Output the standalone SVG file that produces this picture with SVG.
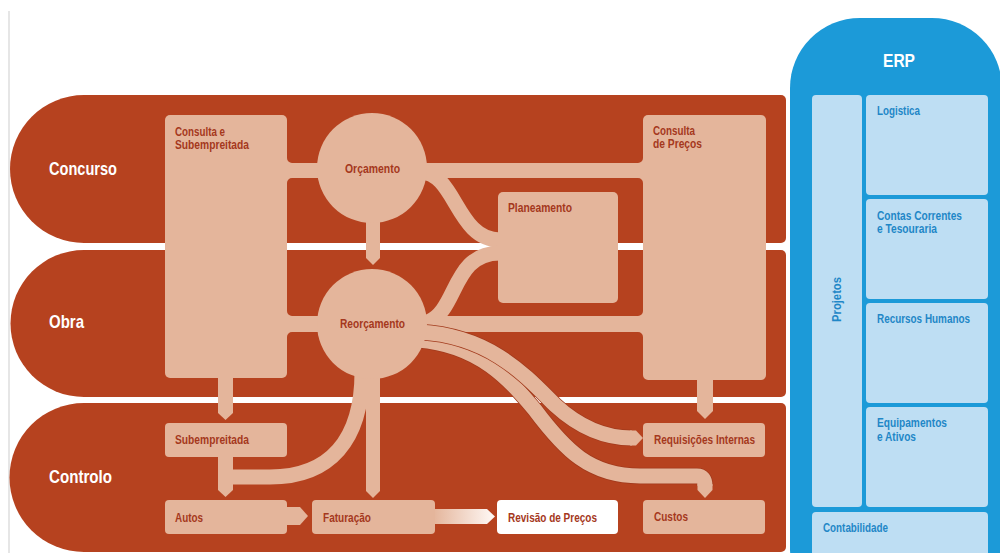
<svg xmlns="http://www.w3.org/2000/svg" width="1000" height="553" viewBox="0 0 1000 553">
  <defs>
    <style>
      .band{fill:#B6421F}
      .lt{fill:#E4B59B}
      .flow{fill:none;stroke:#E4B59B;stroke-width:15}
      .edge{fill:none;stroke:#A23A1C;stroke-width:16.5}
      .lane{font-family:"Liberation Sans",Arial,sans-serif;font-weight:bold;font-size:19px;fill:#FFFFFF}
      .lbl{font-family:"Liberation Sans",Arial,sans-serif;font-weight:bold;font-size:13.5px;fill:#A5381D}
      .erp{fill:#1C9AD8}
      .mod{fill:#BEDEF3}
      .mt{font-family:"Liberation Sans",Arial,sans-serif;font-weight:bold;font-size:13px;fill:#1F87C7}
    </style>
    <linearGradient id="fade" gradientUnits="userSpaceOnUse" x1="433" y1="0" x2="495" y2="0">
      <stop offset="0" stop-color="#E4B59B"/>
      <stop offset="1" stop-color="#FFF9F6"/>
    </linearGradient>
  </defs>

  <rect width="1000" height="553" fill="#FFFFFF"/>
  <line x1="9" y1="11" x2="9" y2="553" stroke="#DEDEDE" stroke-width="1.5"/>

  <!-- swimlanes -->
  <g id="lanes">
    <path class="band" d="M84 95 H781 A5 5 0 0 1 786 100 V238 A5 5 0 0 1 781 243 H84 A74 74 0 0 1 84 95 Z"/>
    <path class="band" d="M84 250 H781 A5 5 0 0 1 786 255 V392 A5 5 0 0 1 781 397 H84 A73.5 73.5 0 0 1 84 250 Z"/>
    <path class="band" d="M84 403 H781 A5 5 0 0 1 786 408 V547 A5 5 0 0 1 781 552 H84 A74.5 74.5 0 0 1 84 403 Z"/>
    <text class="lane" x="49" y="175" textLength="68" lengthAdjust="spacingAndGlyphs">Concurso</text>
    <text class="lane" x="49" y="328" textLength="35" lengthAdjust="spacingAndGlyphs">Obra</text>
    <text class="lane" x="49" y="483" textLength="63" lengthAdjust="spacingAndGlyphs">Controlo</text>
  </g>

  <!-- connectors -->
  <g id="connectors">
    <!-- horizontal links across Concurso and Obra -->
    <rect class="lt" x="285" y="163" width="360" height="15"/>
    <rect class="lt" x="285" y="316" width="360" height="16"/>
    <!-- rounded joints where the links meet the tall boxes -->
    <path class="lt" d="M287 158 A5 5 0 0 0 292 163 L287 163 Z"/>
    <path class="lt" d="M287 183 A5 5 0 0 1 292 178 L287 178 Z"/>
    <path class="lt" d="M643 158 A5 5 0 0 1 638 163 L643 163 Z"/>
    <path class="lt" d="M643 183 A5 5 0 0 0 638 178 L643 178 Z"/>
    <path class="lt" d="M287 311 A5 5 0 0 0 292 316 L287 316 Z"/>
    <path class="lt" d="M287 337 A5 5 0 0 1 292 332 L287 332 Z"/>
    <path class="lt" d="M643 311 A5 5 0 0 1 638 316 L643 316 Z"/>
    <path class="lt" d="M643 337 A5 5 0 0 0 638 332 L643 332 Z"/>
    <!-- Orçamento / Reorçamento to Planeamento -->
    <path class="flow" d="M420 172 C456 172 456 240 500 240"/>
    <path class="flow" d="M428 322 C458 310 452 253 500 253"/>
    <!-- Reorçamento to Custos and Requisições Internas -->
    <path class="edge" d="M418 340 C480 345 510 380 535 410 C565 450 590 476 640 476 L697 476 Q705 476 705 486"/>
    <path class="flow" d="M418 340 C480 345 510 380 535 410 C565 450 590 476 640 476 L697 476 Q705 476 705 486"/>
    <polygon class="lt" points="697.5,484 712.5,484 712.5,490 705,498 697.5,490"/>
    <path class="edge" d="M420 332 C490 336 525 375 555 405 C580 428 605 438 632 438"/>
    <path class="flow" d="M420 332 C490 336 525 375 555 405 C580 428 605 438 632 438"/>
    <polygon class="lt" points="630,430.5 636,430.5 643,438 636,445.5 630,445.5"/>
    <!-- Reorçamento to Autos -->
    <path class="flow" stroke-linecap="round" d="M362 372 C362 440 330 477 270 477 L226 477"/>
    <!-- vertical stems with arrow tips -->
    <polygon class="lt" points="366,220 380,220 380,258 373,265 366,258"/>
    <polygon class="lt" points="366,375 380,375 380,491 373,498 366,491"/>
    <polygon class="lt" points="218,375 233,375 233,413 225.5,420 218,413"/>
    <polygon class="lt" points="218,455 233,455 233,490 225.5,497 218,490"/>
    <polygon class="lt" points="697,378 713,378 713,411 705,419 697,411"/>
    <!-- Autos to Faturação -->
    <polygon class="lt" points="285,507 300,507 308,516 300,525 285,525"/>
    <!-- Faturação to Revisão de Preços -->
    <polygon fill="url(#fade)" points="433,509 487,509 495,516.5 487,524 433,524"/>
  </g>

  <!-- process nodes -->
  <g id="consulta-subempreitada">
    <rect class="lt" x="165" y="115" width="122" height="263" rx="5"/>
    <text class="lbl" x="175" y="136" textLength="50" lengthAdjust="spacingAndGlyphs">Consulta e</text>
    <text class="lbl" x="175" y="149" textLength="74" lengthAdjust="spacingAndGlyphs">Subempreitada</text>
  </g>
  <g id="orcamento">
    <circle class="lt" cx="372" cy="168" r="55"/>
    <text class="lbl" x="345" y="173" textLength="55" lengthAdjust="spacingAndGlyphs">Orçamento</text>
  </g>
  <g id="consulta-precos">
    <rect class="lt" x="643" y="115" width="123" height="265" rx="5"/>
    <text class="lbl" x="653" y="135" textLength="42" lengthAdjust="spacingAndGlyphs">Consulta</text>
    <text class="lbl" x="653" y="148" textLength="49" lengthAdjust="spacingAndGlyphs">de Preços</text>
  </g>
  <g id="planeamento">
    <rect class="lt" x="498" y="192" width="120" height="111" rx="5"/>
    <text class="lbl" x="508" y="212" textLength="64" lengthAdjust="spacingAndGlyphs">Planeamento</text>
  </g>
  <g id="reorcamento">
    <circle class="lt" cx="372" cy="324" r="55"/>
    <text class="lbl" x="340" y="328" textLength="65" lengthAdjust="spacingAndGlyphs">Reorçamento</text>
  </g>
  <g id="subempreitada">
    <rect class="lt" x="165" y="423" width="122" height="34" rx="4"/>
    <text class="lbl" x="175" y="444" textLength="74" lengthAdjust="spacingAndGlyphs">Subempreitada</text>
  </g>
  <g id="requisicoes">
    <rect class="lt" x="643" y="423" width="122" height="34" rx="4"/>
    <text class="lbl" x="654" y="444" textLength="101" lengthAdjust="spacingAndGlyphs">Requisições Internas</text>
  </g>
  <g id="autos">
    <rect class="lt" x="165" y="500" width="122" height="34" rx="4"/>
    <text class="lbl" x="175" y="522" textLength="28" lengthAdjust="spacingAndGlyphs">Autos</text>
  </g>
  <g id="faturacao">
    <rect class="lt" x="312" y="500" width="123" height="34" rx="4"/>
    <text class="lbl" x="323" y="522" textLength="48" lengthAdjust="spacingAndGlyphs">Faturação</text>
  </g>
  <g id="revisao-precos">
    <rect fill="#FFFFFF" x="497" y="500" width="121" height="34" rx="4"/>
    <text class="lbl" x="508" y="522" textLength="89" lengthAdjust="spacingAndGlyphs">Revisão de Preços</text>
  </g>
  <g id="custos">
    <rect class="lt" x="643" y="500" width="122" height="34" rx="4"/>
    <text class="lbl" x="654" y="521" textLength="34" lengthAdjust="spacingAndGlyphs">Custos</text>
  </g>

  <!-- ERP column -->
  <g id="erp">
    <rect class="erp" x="790" y="18" width="212" height="600" rx="70"/>
    <text x="883" y="67" font-family="Liberation Sans, Arial, sans-serif" font-weight="bold" font-size="18" fill="#FFFFFF" textLength="32" lengthAdjust="spacingAndGlyphs">ERP</text>
  </g>
  <g id="projetos">
    <rect class="mod" x="812" y="95" width="50" height="412" rx="4"/>
    <text class="mt" transform="translate(841 322) rotate(-90)" textLength="45" lengthAdjust="spacingAndGlyphs">Projetos</text>
  </g>
  <g id="logistica">
    <rect class="mod" x="866" y="95" width="122" height="100" rx="4"/>
    <text class="mt" x="877" y="115" textLength="43" lengthAdjust="spacingAndGlyphs">Logistica</text>
  </g>
  <g id="contas-correntes">
    <rect class="mod" x="866" y="199" width="122" height="100" rx="4"/>
    <text class="mt" x="877" y="220" textLength="85" lengthAdjust="spacingAndGlyphs">Contas Correntes</text>
    <text class="mt" x="877" y="233" textLength="60" lengthAdjust="spacingAndGlyphs">e Tesouraria</text>
  </g>
  <g id="recursos-humanos">
    <rect class="mod" x="866" y="303" width="122" height="100" rx="4"/>
    <text class="mt" x="877" y="323" textLength="93" lengthAdjust="spacingAndGlyphs">Recursos Humanos</text>
  </g>
  <g id="equipamentos">
    <rect class="mod" x="866" y="407" width="122" height="100" rx="4"/>
    <text class="mt" x="877" y="427" textLength="70" lengthAdjust="spacingAndGlyphs">Equipamentos</text>
    <text class="mt" x="877" y="441" textLength="39" lengthAdjust="spacingAndGlyphs">e Ativos</text>
  </g>
  <g id="contabilidade">
    <rect class="mod" x="812" y="512" width="176" height="60" rx="4"/>
    <text class="mt" x="823" y="532" textLength="65" lengthAdjust="spacingAndGlyphs">Contabilidade</text>
  </g>
</svg>
